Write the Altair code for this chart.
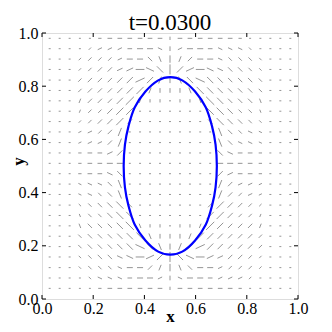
import math
import altair as alt
import pandas as pd

title_text = "t=0.0300"
x_ticks = [0.0, 0.2, 0.4, 0.6, 0.8, 1.0]
y_ticks = [0.0, 0.2, 0.4, 0.6, 0.8, 1.0]

# quiver grid (columns left->right, rows top->bottom)
grid_x = [0.030, 0.069, 0.108, 0.148, 0.187, 0.226, 0.265, 0.304, 0.343, 0.383,
          0.422, 0.461, 0.500, 0.539, 0.578, 0.618, 0.657, 0.696, 0.735, 0.774,
          0.813, 0.853, 0.892, 0.931, 0.970]
grid_y = [0.980, 0.941, 0.902, 0.863, 0.823, 0.784, 0.745, 0.706, 0.667, 0.628,
          0.588, 0.549, 0.510, 0.471, 0.432, 0.393, 0.353, 0.314, 0.275, 0.236,
          0.197, 0.158, 0.118, 0.079, 0.040]

# each cell: direction glyph + length class
field_rows = [
    r".0.0.0.0.0-1-2-2-2-2-2-2|1-2-2-2-2-2-2-1.0.0.0.0.0",
    r".0.0.0.0/1~2~2~2-2-3-3_2|2~2-3-3-2_2_2_2\1.0.0.0.0",
    r".0.0.0/1/2/2/2~2-3-3\3(3|4)3/3-3-3_2\2\2\2\1.0.0.0",
    r".0.0.0/1/2/3/3~3~4-5_5\5|6/5~5-5_4_3\3\3\2\1.0.0.0",
    r".0.0.0/2/3/3/3/4/5~6/5)4|3(4\5_6\5\4\3\3\3\2.0.0.0",
    r".0.0.0/2/3/3/3/4/5/6)3|2|2|2(3\6\5\4\3\3\3\2.0.0.0",
    r".0.0.0)2/3/3/3/5/7)2|1|1.0|1|1(2\7\5\3\3\3(2.0.0.0",
    r".0.0.0)1/2/2/4/6/6.1.0.0.0.0.0.1\6\6\4\2\2(1.0.0.0",
    r".0.0.0/1/2/3/4/6/3.0.0.0.0.0.0.0\3\6\4\3\2\1.0.0.0",
    r".0.0.0~1~2/2/3)5.1.0.0.0.0.0.0.0.1(5\3\2_2_1.0.0.0",
    r".0.0.0~1~2~2/3)5.0.0.0.0.0.0.0.0.0(5\3_2_2_1.0.0.0",
    r".0.0.0-1-2-2~3/4.0.0.0.0.0.0.0.0.0\4_3-2-2-1.0.0.0",
    r".0.0.0-1-2-2-3-3.0.0.0.0.0.0.0.0.0-3-3-2-2-1.0.0.0",
    r".0.0.0-1-2-2_3\4.0.0.0.0.0.0.0.0.0/4~3-2-2-1.0.0.0",
    r".0.0.0_1_2_2\3(5.0.0.0.0.0.0.0.0.0)5/3~2~2~1.0.0.0",
    r".0.0.0_1_2\2\3(5.1.0.0.0.0.0.0.0.1)5/3/2~2~1.0.0.0",
    r".0.0.0\1\2\3\4\6\3.0.0.0.0.0.0.0/3/6/4/3/2/1.0.0.0",
    r".0.0.0(1\2\2\4\6\6.1.0.0.0.0.0.1/6/6/4/2/2)1.0.0.0",
    r".0.0.0(2\3\3\3\5\7(2|1|1.0|1|1)2/7/5/3/3/3)2.0.0.0",
    r".0.0.0\2\3\3\3\4\5\6(3|2|2|2)3/6/5/4/3/3/3/2.0.0.0",
    r".0.0.0\2\3\3\3\4\5_6\5(4|3)4/5~6/5/4/3/3/3/2.0.0.0",
    r".0.0.0\1\2\3\3_3_4-5~5/5|6\5_5-5~4~3/3/3/2/1.0.0.0",
    r".0.0.0\1\2\2\2_2-3-3/3)3|4(3\3-3-3~2/2/2/2/1.0.0.0",
    r".0.0.0.0\1_2_2_2-2-3-3~2|2_2-3-3-2~2~2~2/1.0.0.0.0",
    r".0.0.0.0.0-1-2-2-2-2-2-2|1-2-2-2-2-2-2-1.0.0.0.0.0",
]

# interface contour
curve_x = [0.683, 0.678, 0.664, 0.640, 0.598, 0.548, 0.501, 0.454, 0.404, 0.362,
           0.338, 0.324, 0.319, 0.324, 0.338, 0.362, 0.404, 0.454, 0.501, 0.548,
           0.598, 0.640, 0.664, 0.678]
curve_y = [0.500, 0.580, 0.650, 0.720, 0.780, 0.822, 0.834, 0.822, 0.780, 0.720,
           0.650, 0.580, 0.500, 0.420, 0.350, 0.280, 0.220, 0.178, 0.167, 0.178,
           0.220, 0.280, 0.350, 0.420]

W, H = 256, 266
glyph_angle = {"-": 0, "~": 25, "/": 45, ")": 68, "|": 90, "(": 112, "\\": 135, "_": 155}

recs = []
for r, row in enumerate(field_rows):
    for c in range(len(grid_x)):
        g = row[2 * c]
        d = int(row[2 * c + 1])
        if g == ".":
            ang, L = 0.0, 1.2
        else:
            ang, L = glyph_angle[g], 1.2 + 1.35 * d
        dx = L * math.cos(math.radians(ang)) / W
        dy = L * math.sin(math.radians(ang)) / H
        gx, gy = grid_x[c], grid_y[r]
        recs.append({"x": gx - dx / 2, "y": gy - dy / 2, "x2": gx + dx / 2, "y2": gy + dy / 2})
arrows = pd.DataFrame(recs)

curve = pd.DataFrame({"x": curve_x, "y": curve_y, "i": list(range(len(curve_x)))})
xt = pd.DataFrame({"v": x_ticks})
yt = pd.DataFrame({"v": y_ticks})
tdf = pd.DataFrame({"t": [title_text]})

serif = "'Liberation Serif', 'DejaVu Serif', serif"
xs = alt.Scale(domain=[0, 1], nice=False, zero=False)
ys = alt.Scale(domain=[0, 1], nice=False, zero=False)

quiver = alt.Chart(arrows).mark_rule(color="#959595", strokeWidth=1, strokeCap="round").encode(
    x=alt.X("x:Q", scale=xs, axis=alt.Axis(
        title="x", values=x_ticks, format=".1f", grid=False, ticks=False, domain=False,
        labelFont=serif, labelFontSize=16, labelColor="black", labelPadding=1,
        labelOverlap=False, labelFlush=False,
        titleFont=serif, titleFontSize=17, titleFontWeight="bold", titleColor="black",
        titleX=128, titleY=22, titleBaseline="alphabetic", titleAlign="center")),
    y=alt.Y("y:Q", scale=ys, axis=alt.Axis(
        title="y", values=y_ticks, format=".1f", grid=False, ticks=False, domain=False,
        labelFont=serif, labelFontSize=16, labelColor="black", labelPadding=4,
        labelOverlap=False, labelFlush=False,
        titleFont=serif, titleFontSize=17, titleFontWeight="bold", titleColor="black",
        titleX=-24, titleY=128, titleAngle=270, titleBaseline="middle", titleAlign="center")),
    x2="x2:Q",
    y2="y2:Q",
)

line = alt.Chart(curve).mark_line(color="#0000ff", strokeWidth=2.2, interpolate="cardinal-closed").encode(
    x="x:Q", y="y:Q", order="i:Q"
)

tick_len = 4
tb = alt.Chart(xt).mark_rule(color="black", strokeWidth=1).encode(
    x="v:Q", y=alt.value(H), y2=alt.value(H - tick_len))
tt = alt.Chart(xt).mark_rule(color="black", strokeWidth=1).encode(
    x="v:Q", y=alt.value(0), y2=alt.value(tick_len))
tl = alt.Chart(yt).mark_rule(color="black", strokeWidth=1).encode(
    y="v:Q", x=alt.value(0), x2=alt.value(tick_len))
tr = alt.Chart(yt).mark_rule(color="black", strokeWidth=1).encode(
    y="v:Q", x=alt.value(W), x2=alt.value(W - tick_len))

title_mark = alt.Chart(tdf).mark_text(
    font=serif, fontSize=23, color="black", align="center", baseline="alphabetic"
).encode(x=alt.value(W / 2), y=alt.value(-3), text="t:N")

chart = alt.layer(quiver, line, tb, tt, tl, tr, title_mark).properties(
    width=W, height=H,
    autosize=alt.AutoSizeParams(type="none"),
    padding={"left": 34, "top": 25, "right": 26, "bottom": 25},
).configure_view(stroke="#333333", strokeWidth=1.2).configure(background="white")

chart.save("out.html", embed_options={"renderer": "svg", "actions": False})
